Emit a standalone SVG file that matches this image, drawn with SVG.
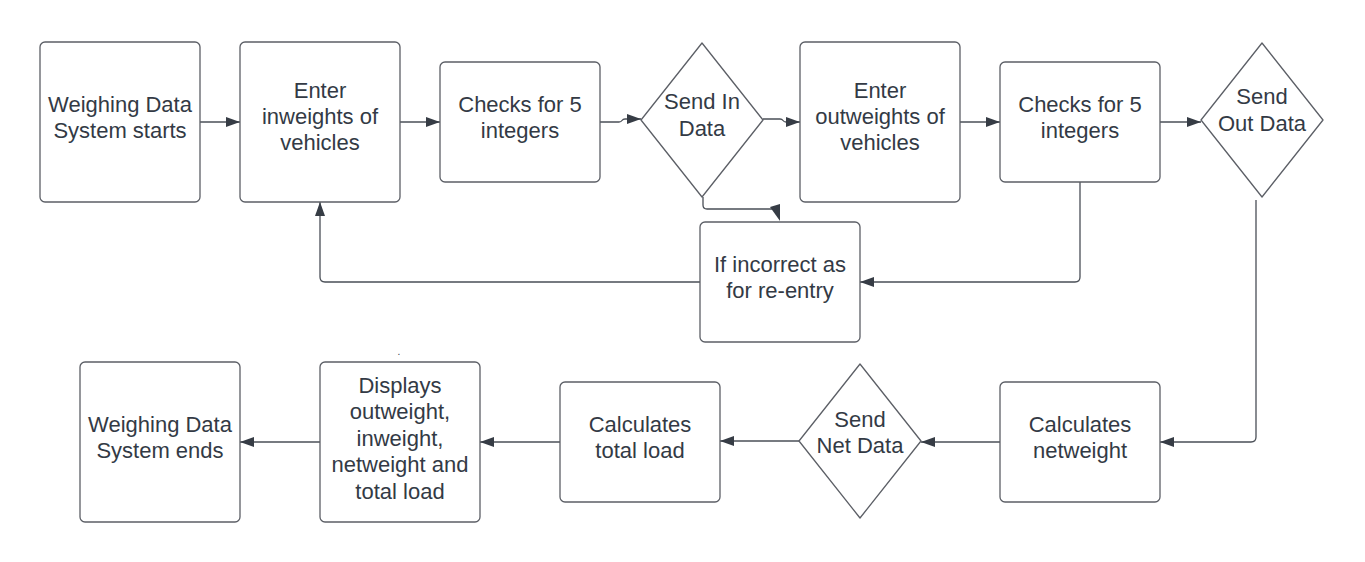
<svg xmlns="http://www.w3.org/2000/svg" width="1365" height="562" viewBox="0 0 1365 562">
<style>
.box{fill:#ffffff;stroke:#5c5f66;stroke-width:1.3}
.t{font-family:"Liberation Sans",Arial,sans-serif;font-size:22px;fill:#333a45;text-anchor:middle}
.c{fill:none;stroke:#4a4f57;stroke-width:1.3}
</style>
<defs>
<marker id="ah" viewBox="0 0 14 10" refX="14" refY="5" markerWidth="14" markerHeight="10" markerUnits="userSpaceOnUse" orient="auto">
<path d="M0,0 L14,5 L0,10 Z" fill="#363c45"/>
</marker>
</defs>
<rect width="1365" height="562" fill="#ffffff"/>

<g id="connectors">
<path class="c" d="M200,122 H240" marker-end="url(#ah)"/>
<path class="c" d="M400,122 H440" marker-end="url(#ah)"/>
<path class="c" d="M600,122 H619 Q621,122 622,120.5 Q623,119 625,119 H641" marker-end="url(#ah)"/>
<path class="c" d="M763,119 H780 Q782,119 783,120.5 Q784,122 786,122 H800" marker-end="url(#ah)"/>
<path class="c" d="M960,122 H1000" marker-end="url(#ah)"/>
<path class="c" d="M1160,122 H1201" marker-end="url(#ah)"/>
<path class="c" d="M703,197 V205 Q703,209 707,209 H772"/>
<polygon points="770,207 780,204 780,221" fill="#363c45"/>
<path class="c" d="M700,282 H325 Q320,282 320,277 V202" marker-end="url(#ah)"/>
<path class="c" d="M1080,182 V277 Q1080,282 1075,282 H860" marker-end="url(#ah)"/>
<path class="c" d="M1256,200 V437 Q1256,442 1251,442 H1160" marker-end="url(#ah)"/>
<path class="c" d="M1000,442 H921" marker-end="url(#ah)"/>
<path class="c" d="M799,441 H720" marker-end="url(#ah)"/>
<path class="c" d="M560,442 H480" marker-end="url(#ah)"/>
<path class="c" d="M320,442 H240" marker-end="url(#ah)"/>
</g>

<g id="n-start">
<rect class="box" x="40" y="42" width="160" height="160" rx="5"/>
<text class="t" x="120" y="112">Weighing Data</text>
<text class="t" x="120" y="138">System starts</text>
</g>
<g id="n-enter-in">
<rect class="box" x="240" y="42" width="160" height="160" rx="5"/>
<text class="t" x="320" y="98">Enter</text>
<text class="t" x="320" y="124">inweights of</text>
<text class="t" x="320" y="150">vehicles</text>
</g>
<g id="n-check-in">
<rect class="box" x="440" y="62" width="160" height="120" rx="5"/>
<text class="t" x="520" y="111.5">Checks for 5</text>
<text class="t" x="520" y="137.5">integers</text>
</g>
<g id="n-send-in">
<path class="box" d="M702,43 L763,120 L702,197 L641,120 Z" stroke-linejoin="round"/>
<text class="t" x="702" y="109">Send In</text>
<text class="t" x="702" y="136">Data</text>
</g>
<g id="n-enter-out">
<rect class="box" x="800" y="42" width="160" height="160" rx="5"/>
<text class="t" x="880" y="98">Enter</text>
<text class="t" x="880" y="124">outweights of</text>
<text class="t" x="880" y="150">vehicles</text>
</g>
<g id="n-check-out">
<rect class="box" x="1000" y="62" width="160" height="120" rx="5"/>
<text class="t" x="1080" y="111.5">Checks for 5</text>
<text class="t" x="1080" y="137.5">integers</text>
</g>
<g id="n-send-out">
<path class="box" d="M1262,43 L1323,120 L1262,197 L1201,120 Z" stroke-linejoin="round"/>
<text class="t" x="1262" y="104">Send</text>
<text class="t" x="1262" y="130.5">Out Data</text>
</g>
<g id="n-incorrect">
<rect class="box" x="700" y="222" width="160" height="120" rx="5"/>
<text class="t" x="780" y="271.5">If incorrect as</text>
<text class="t" x="780" y="297.5">for re-entry</text>
</g>
<g id="n-netweight">
<rect class="box" x="1000" y="382" width="160" height="120" rx="5"/>
<text class="t" x="1080" y="431.5">Calculates</text>
<text class="t" x="1080" y="457.5">netweight</text>
</g>
<g id="n-send-net">
<path class="box" d="M860,364 L921,441 L860,518 L799,441 Z" stroke-linejoin="round"/>
<text class="t" x="860" y="427">Send</text>
<text class="t" x="860" y="453">Net Data</text>
</g>
<g id="n-total">
<rect class="box" x="560" y="382" width="160" height="120" rx="5"/>
<text class="t" x="640" y="431.5">Calculates</text>
<text class="t" x="640" y="457.5">total load</text>
</g>
<g id="n-display">
<rect class="box" x="320" y="362" width="160" height="160" rx="5"/>
<text class="t" x="400" y="392.5">Displays</text>
<text class="t" x="400" y="419">outweight,</text>
<text class="t" x="400" y="445.5">inweight,</text>
<text class="t" x="400" y="472">netweight and</text>
<text class="t" x="400" y="498.5">total load</text>
</g>
<g id="n-end">
<rect class="box" x="80" y="362" width="160" height="160" rx="5"/>
<text class="t" x="160" y="431.5">Weighing Data</text>
<text class="t" x="160" y="458">System ends</text>
</g>
<text x="399" y="355" font-family="Liberation Sans, Arial, sans-serif" font-size="10" fill="#333a45" text-anchor="middle">.</text>
</svg>
